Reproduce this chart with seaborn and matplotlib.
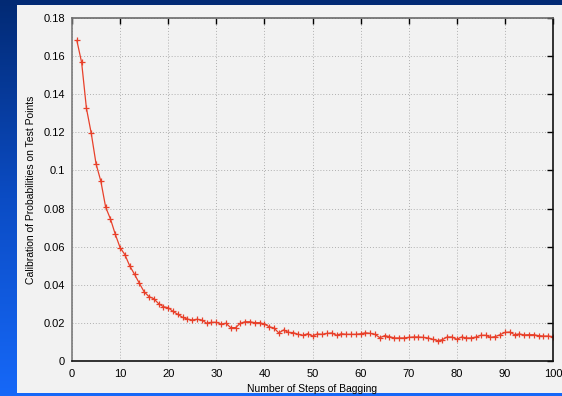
import numpy as np
import pandas as pd
import matplotlib
matplotlib.use("Agg")
import matplotlib.pyplot as plt
from matplotlib.colors import LinearSegmentedColormap
from matplotlib.patches import Rectangle
import seaborn as sns

steps = list(range(1, 101))
calibration = [
    0.1683, 0.1567, 0.1326, 0.1195, 0.1035, 0.0943, 0.0807, 0.0745, 0.0665, 0.0595,
    0.0558, 0.0499, 0.0455, 0.0408, 0.0363, 0.0338, 0.0327, 0.0301, 0.0285, 0.0280,
    0.0260, 0.0245, 0.0229, 0.0220, 0.0215, 0.0219, 0.0215, 0.0198, 0.0203, 0.0203,
    0.0194, 0.0198, 0.0175, 0.0175, 0.0198, 0.0206, 0.0206, 0.0201, 0.0201, 0.0194,
    0.0180, 0.0173, 0.0147, 0.0163, 0.0150, 0.0149, 0.0140, 0.0135, 0.0143, 0.0131,
    0.0142, 0.0140, 0.0145, 0.0147, 0.0135, 0.0143, 0.0140, 0.0140, 0.0140, 0.0143,
    0.0148, 0.0145, 0.0140, 0.0122, 0.0133, 0.0128, 0.0121, 0.0121, 0.0121, 0.0124,
    0.0126, 0.0126, 0.0124, 0.0121, 0.0114, 0.0107, 0.0112, 0.0126, 0.0126, 0.0114,
    0.0126, 0.0121, 0.0121, 0.0126, 0.0135, 0.0135, 0.0124, 0.0128, 0.0138, 0.0150,
    0.0152, 0.0138, 0.0142, 0.0137, 0.0138, 0.0138, 0.0133, 0.0131, 0.0131, 0.0128,
]
x_ticks = [0, 10, 20, 30, 40, 50, 60, 70, 80, 90, 100]
x_tick_labels = ["0", "10", "20", "30", "40", "50", "60", "70", "80", "90", "100"]
y_ticks = [0, 0.02, 0.04, 0.06, 0.08, 0.10, 0.12, 0.14, 0.16, 0.18]
y_tick_labels = ["0", "0.02", "0.04", "0.06", "0.08", "0.1", "0.12", "0.14", "0.16", "0.18"]
x_label = "Number of Steps of Bagging"
y_label = "Calibration of Probabilities on Test Points"

df = pd.DataFrame({"step": steps, "cal": calibration})

sns.set_theme(style="white")
plt.rcParams["font.family"] = ["Liberation Sans", "DejaVu Sans"]

W, H = 562, 396
fig = plt.figure(figsize=(W / 100, H / 100), dpi=100)

# blue gradient background
bg = fig.add_axes([0, 0, 1, 1], zorder=-10)
cmap = LinearSegmentedColormap.from_list("bg", ["#022a74", "#0b4cc4", "#1668f8"])
grad = np.linspace(0, 1, 256).reshape(-1, 1)
bg.imshow(grad, aspect="auto", cmap=cmap, extent=[0, 1, 0, 1], origin="upper")
bg.set_xlim(0, 1)
bg.set_ylim(0, 1)
bg.axis("off")
# light gray panel
bg.add_patch(Rectangle((17 / W, 1 - 393 / H), (W - 17) / W, (393 - 5) / H,
                       facecolor="#f2f2f2", edgecolor="none", transform=bg.transAxes))

left, right, top, bottom = 72, 553, 18, 361
ax = fig.add_axes([left / W, 1 - bottom / H, (right - left) / W, (bottom - top) / H])
ax.set_facecolor("none")

sns.lineplot(data=df, x="step", y="cal", ax=ax, color="#e8402a", linewidth=0.9,
             marker="+", markersize=5, markeredgewidth=0.9, markeredgecolor="#e8402a")

ax.set_xlim(0, 100)
ax.set_ylim(0, 0.18)
ax.set_xticks(x_ticks)
ax.set_xticklabels(x_tick_labels)
ax.set_yticks(y_ticks)
ax.set_yticklabels(y_tick_labels)
ax.grid(True, color="#b0b0b0", linestyle=(0, (1, 2)), linewidth=0.7)
ax.tick_params(direction="in", length=4, width=1, top=True, right=True,
               labelsize=8, colors="#000000", pad=5)
ax.tick_params(axis="x", pad=6)
for side, col in [("left", "#7a7a7a"), ("top", "#6a6a6a"), ("right", "#111111"), ("bottom", "#111111")]:
    ax.spines[side].set_visible(True)
    ax.spines[side].set_color(col)
    ax.spines[side].set_linewidth(1.2)

ax.set_xlabel(x_label, fontsize=7.5, color="#000000", labelpad=3)
ax.set_ylabel(y_label, fontsize=7.5, color="#000000", labelpad=5)

fig.savefig("out.png", dpi=100)
